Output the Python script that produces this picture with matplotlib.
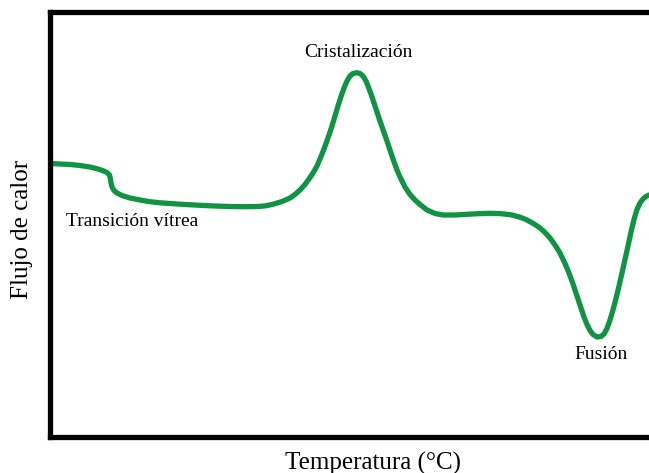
import matplotlib
matplotlib.use("Agg")
import matplotlib.pyplot as plt

# Temperature and heat-flow values (arbitrary units)
temperatura = [0, 10, 20, 30, 40, 48, 53, 57, 59.5, 60.5, 61, 62, 64, 67, 72, 80, 90, 100,
               110, 120, 135, 150, 165, 180, 195, 208, 216, 224, 232, 240, 245, 250, 255,
               259, 263, 267, 270, 273, 276, 279, 282, 285, 288, 291, 294, 297, 300,
               303, 307, 310, 313, 316, 318, 321, 324, 327, 330, 334, 337, 340, 343,
               347, 350, 355, 360, 365, 370, 377, 385, 393, 405, 417, 428, 440, 450,
               457, 463, 470, 476, 480, 485, 490, 495, 500, 505, 510, 515, 519, 523,
               527, 531, 534, 537, 540, 543, 547, 551, 554, 557, 560, 563, 566, 569,
               572, 575, 578, 581, 584, 587, 590, 593, 596, 599]
flujo = [273.5, 273, 272.5, 271.5, 270, 268, 266.3, 264.5, 262, 258, 254, 250, 246.5,
         244, 241.5, 239, 237, 235.3, 234.2, 233.5, 232.5, 231.7, 231, 230.5, 230.3,
         230.5, 231.2, 233, 235.5, 239, 242.5, 247, 252.5,
         258, 264, 271, 278, 285.5, 293.5, 302, 311, 321, 331, 340.5, 349, 356, 361,
         363.5, 364.3, 363.5, 361, 356, 351, 343, 334, 325, 316, 304.5, 296, 287, 278,
         267, 260, 250, 242.5, 237, 232.5, 227, 223.5, 222, 222, 222.7, 223.3, 223.7,
         223.4, 222.7, 221.8, 219.8, 217.5, 215.3, 212.5, 209, 204.5, 199, 192, 184,
         173.5, 164, 153, 141, 129, 120, 112.5, 106.5, 102.5, 100, 100.5, 103, 108.5,
         117, 127, 138.5, 151, 164, 177.5, 191, 205, 217.5, 227.5, 234, 238, 240.5, 242]

etiquetas = ["Transición vítrea", "Cristalización", "Fusión"]
etiqueta_pos = [(16, 216), (308.5, 385), (551, 83)]

plt.rcParams['font.family'] = ['Liberation Serif', 'DejaVu Serif']

fig = plt.figure(figsize=(6.49, 4.73), dpi=100)
ax = fig.add_axes([50/649, 36/473, 1 - 50/649, 425/473])
ax.plot(temperatura, flujo, color='#0f9443', lw=3.8, solid_capstyle='round',
        solid_joinstyle='round')
ax.set_xlim(0, 599)
ax.set_ylim(0, 425)
ax.set_xticks([])
ax.set_yticks([])
for s in ['left', 'bottom', 'top']:
    ax.spines[s].set_linewidth(3.8)
ax.spines['right'].set_visible(False)

ax.text(*etiqueta_pos[0], etiquetas[0], ha='left', va='center', fontsize=14)
ax.text(*etiqueta_pos[1], etiquetas[1], ha='center', va='center', fontsize=14)
ax.text(*etiqueta_pos[2], etiquetas[2], ha='center', va='center', fontsize=14)

fig.text(373/649, 1 - 463/473, "Temperatura (°C)", ha='center', va='center', fontsize=18)
fig.text(22/649, 1 - 229/473, "Flujo de calor", ha='center', va='center',
         rotation=90, fontsize=18)

fig.savefig("out.png", dpi=100)
